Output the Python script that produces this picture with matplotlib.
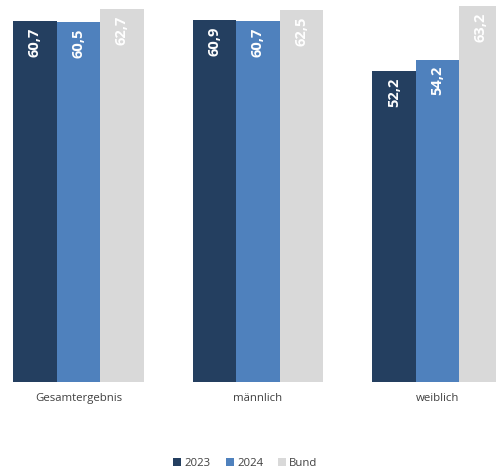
import matplotlib.pyplot as plt
import numpy as np

# data
categories = ['Gesamtergebnis', 'männlich', 'weiblich']
series = ['2023', '2024', 'Bund']
v2023 = [60.7, 60.9, 52.2]
v2024 = [60.5, 60.7, 54.2]
bund = [62.7, 62.5, 63.2]

colors = ['#243F60', '#4F81BD', '#D9D9D9']
plt.rcParams['font.family'] = ['Open Sans', 'DejaVu Sans']

fig = plt.figure(figsize=(4.96, 4.74), dpi=100)
ax = fig.add_axes([0, 0.194, 1, 0.806])

x = np.arange(len(categories))
w = 0.2424
for i, (name, vals) in enumerate(zip(series, [v2023, v2024, bund])):
    pos = x + (i - 1) * w
    ax.bar(pos, vals, width=w, color=colors[i], label=name)
    for xp, v in zip(pos, vals):
        ax.text(xp, v - 1.1, f'{v:.1f}'.replace('.', ','), rotation=90,
                ha='center', va='top', color='white', fontsize=10.5,
                fontweight='bold')

ax.set_xlim(-0.437, 2.326)
ax.set_ylim(0, 64.2)
ax.set_xticks(x)
ax.set_xticklabels(categories, fontsize=8.2, color='#404040')
ax.tick_params(axis='x', length=0, pad=8)
ax.set_yticks([])
for s in ax.spines.values():
    s.set_visible(False)

fig.legend(loc='center', bbox_to_anchor=(0.495, 0.023), ncol=3, frameon=False,
           fontsize=8.2, handlelength=0.7, handleheight=0.7, handletextpad=0.3,
           columnspacing=1.3, labelcolor='#404040')

fig.savefig('out.png', dpi=100)
